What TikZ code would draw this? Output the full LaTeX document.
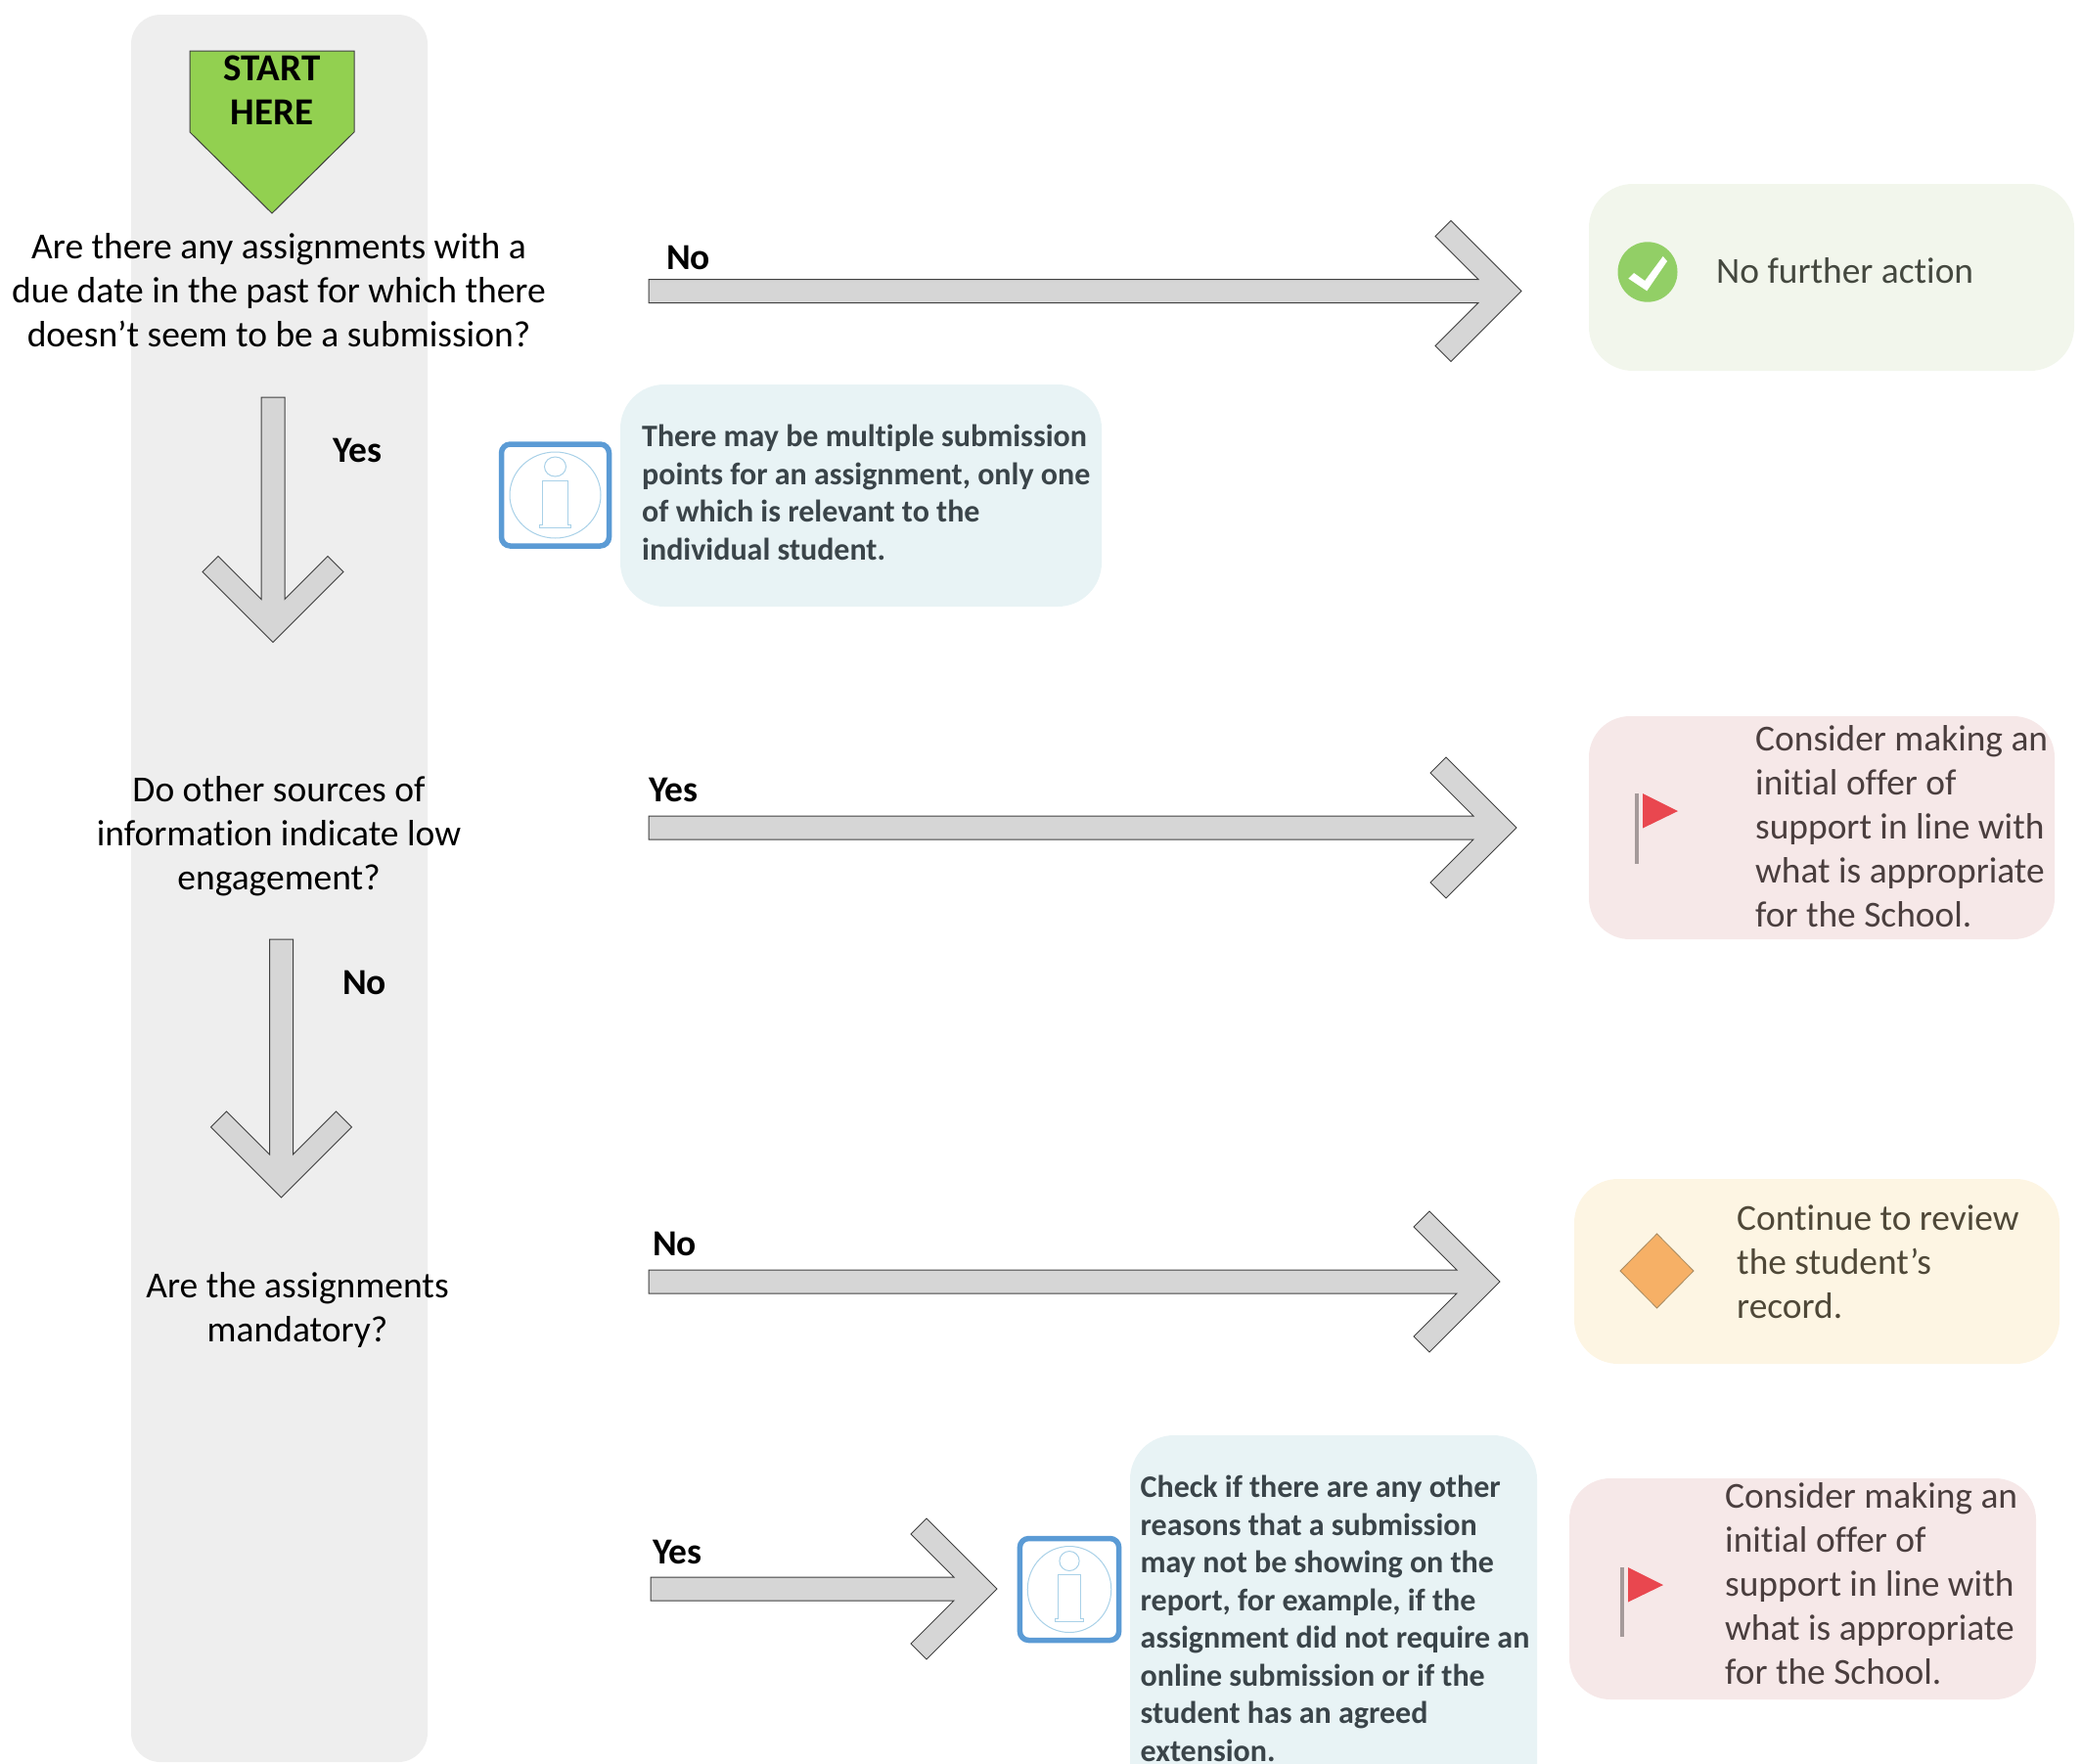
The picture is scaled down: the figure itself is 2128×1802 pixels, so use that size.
\documentclass[tikz,border=0pt]{standalone}
\usepackage{fontspec}
\setmainfont{Carlito}[Ligatures=CommonOff]
\usetikzlibrary{calc}
\definecolor{panelgrey}{HTML}{EEEEEE}
\definecolor{startgreen}{HTML}{92D050}
\definecolor{arrowgrey}{HTML}{D6D6D6}
\definecolor{infoblue}{HTML}{5B9BD5}
\definecolor{infoline}{HTML}{A9D1E8}
\definecolor{infobox}{HTML}{E8F3F5}
\definecolor{infotext}{HTML}{3A4449}
\definecolor{greenbox}{HTML}{F2F6EC}
\definecolor{greentext}{HTML}{44483F}
\definecolor{okgreen}{HTML}{92CF66}
\definecolor{pinkbox}{HTML}{F6E8E8}
\definecolor{pinktext}{HTML}{4A3E3E}
\definecolor{flagred}{HTML}{E9474F}
\definecolor{polegrey}{HTML}{A59A9A}
\definecolor{yellowbox}{HTML}{FDF5E3}
\definecolor{yellowtext}{HTML}{4F4838}
\definecolor{diamondfill}{HTML}{F6B066}
\definecolor{diamondline}{HTML}{A88A60}
\tikzset{
  x=1pt,y=-1pt,
  blockarrow/.style={draw=black!75,line width=1pt,fill=arrowgrey,line join=miter},
  question/.style={anchor=base,align=center,inner sep=0pt,font=\fontsize{37.5}{45}\selectfont,text=black},
  answer/.style={anchor=base west,inner sep=0pt,font=\fontsize{37.5}{45}\bfseries\selectfont,text=black},
  starttext/.style={anchor=base,inner sep=0pt,font=\fontsize{39}{45}\bfseries\selectfont,text=black},
  note/.style={anchor=base west,align=left,inner sep=0pt,font=\fontsize{32}{38.5}\bfseries\selectfont,text=infotext},
  outcome/.style={anchor=base west,align=left,inner sep=0pt,font=\fontsize{37.4}{45}\selectfont},
  panelbox/.style={rounded corners=#1pt,draw=none},
  iconline/.style={draw=infoline,line width=1pt},
}
\newcommand\blockarrowfrom[2]{%
  \draw[blockarrow]
    ($(#1)!12pt!90:(#2)$) --
    ($(#2)!44pt!(#1)!12pt!-90:(#1)$) --
    ($(#2)!88pt!(#1)!56pt!-90:(#1)$) --
    ($(#2)!72pt!(#1)!72pt!-90:(#1)$) --
    (#2) --
    ($(#2)!72pt!(#1)!72pt!90:(#1)$) --
    ($(#2)!88pt!(#1)!56pt!90:(#1)$) --
    ($(#2)!44pt!(#1)!12pt!90:(#1)$) --
    ($(#1)!12pt!-90:(#2)$) -- cycle;}
\newcommand\infoicon[4]{% name, cx, cy, xscale
  \begin{scope}[shift={(#2,#3)},xscale=#4]
    \draw[infoblue,line width=5.5pt,rounded corners=9pt,fill=white] (-55,-52) rectangle (55,52);
    \coordinate (#1) at (0,0);
    \draw[iconline] (0,0) ellipse [x radius=46.5,y radius=44];
    \draw[iconline] (0,-29) ellipse [x radius=11,y radius=10];
    \draw[iconline] (-13,-15) -- (13,-15) -- (13,30) -- (16,30) -- (16,33) -- (-16,33) -- (-16,30) -- (-13,30) -- cycle;
  \end{scope}}
\newcommand\flagicon[7]{% pole x1,x2,y1,y2 ; flag x1, tip x, y1
  \fill[polegrey] (#1,#3) rectangle (#2,#4);
  \fill[flagred] (#5,#7) -- (#6,#7+18) -- (#5,#7+35.5) -- cycle;}
\begin{document}
\begin{tikzpicture}
\useasboundingbox (0,0) rectangle (2128,1802);
\begin{scope}
\clip (0,0) rectangle (2128,1802);
% panels
\fill[panelgrey,panelbox=30] (134,15) rectangle (437,1801);
\fill[infobox,panelbox=45] (634,393) rectangle (1126,620);
\fill[infobox,panelbox=45] (1155,1467) rectangle (1571,1860);
\fill[greenbox,panelbox=45] (1624,188) rectangle (2120,379);
\fill[pinkbox,panelbox=42] (1624,732) rectangle (2100,960);
\fill[yellowbox,panelbox=45] (1609,1205) rectangle (2105,1394);
\fill[pinkbox,panelbox=42] (1604,1511) rectangle (2081,1737);
\end{scope}
% start shape
\draw[draw=black!75,line width=1pt,fill=startgreen] (194,52) -- (362,52) -- (362,135) -- (278,218) -- (194,135) -- cycle;
\node[starttext] (start1) at (278,82) {START};
\node[starttext] (start2) at (278,127) {HERE};
% questions
\node[question] (q1) at (285,354) {Are there any assignments with a\\due date in the past for which there\\doesn’t seem to be a submission?};
\node[question] (q2) at (285,909) {Do other sources of\\information indicate low\\engagement?};
\node[question] (q3) at (304,1371) {Are the assignments\\mandatory?};
% arrows
\coordinate (d1s) at (279,406); \coordinate (d1e) at (279,656.5);
\coordinate (d2s) at (287.5,960); \coordinate (d2e) at (287.5,1224);
\coordinate (h1s) at (663,297.5); \coordinate (h1e) at (1555,297.5);
\coordinate (h2s) at (663,846); \coordinate (h2e) at (1550,846);
\coordinate (h3s) at (663,1310); \coordinate (h3e) at (1533,1310);
\coordinate (h4s) at (665,1624); \coordinate (h4e) at (1019,1624);
\blockarrowfrom{d1s}{d1e}
\blockarrowfrom{d2s}{d2e}
\blockarrowfrom{h1s}{h1e}
\blockarrowfrom{h2s}{h2e}
\blockarrowfrom{h3s}{h3e}
\blockarrowfrom{h4s}{h4e}
% answers
\node[answer] (a1) at (681,275) {No};
\node[answer] (a2) at (340,472) {Yes};
\node[answer] (a3) at (663,819) {Yes};
\node[answer] (a4) at (350,1016) {No};
\node[answer] (a5) at (667,1283) {No};
\node[answer] (a6) at (667,1598) {Yes};
% info notes
\infoicon{i1}{567.5}{506}{1}
\infoicon{i2}{1093}{1624.5}{0.92}
\node[note] (n1) at (656,572) {There may be multiple submission\\points for an assignment, only one\\of which is relevant to the\\individual student.};
\node[note] (n2) at (1165.5,1800) {Check if there are any other\\reasons that a submission\\may not be showing on the\\report, for example, if the\\assignment did not require an\\online submission or if the\\student has an agreed\\extension.};
% outcomes
\fill[okgreen] (1684,278) ellipse [x radius=30.5,y radius=30.7];
\fill[white] (1664.4,284.7) -- (1670,279) -- (1681.2,287) -- (1699.7,262) -- (1704,267) -- (1683.3,297.3) -- cycle;
\node[outcome,text=greentext] (o1) at (1754,289) {No further action};
\flagicon{1671}{1675}{811}{883}{1679}{1715}{811}
\node[outcome,text=pinktext] (o2) at (1794,947) {Consider making an\\initial offer of\\support in line with\\what is appropriate\\for the School.};
\draw[draw=diamondline,line width=0.8pt,fill=diamondfill] (1656,1299) -- (1693.5,1261) -- (1731,1299) -- (1693.5,1337) -- cycle;
\node[outcome,text=yellowtext] (o3) at (1775,1347) {Continue to review\\the student’s\\record.};
\flagicon{1656}{1659.5}{1602}{1673}{1664}{1700}{1602}
\node[outcome,text=pinktext] (o4) at (1763,1721) {Consider making an\\initial offer of\\support in line with\\what is appropriate\\for the School.};
\end{tikzpicture}
\end{document}
